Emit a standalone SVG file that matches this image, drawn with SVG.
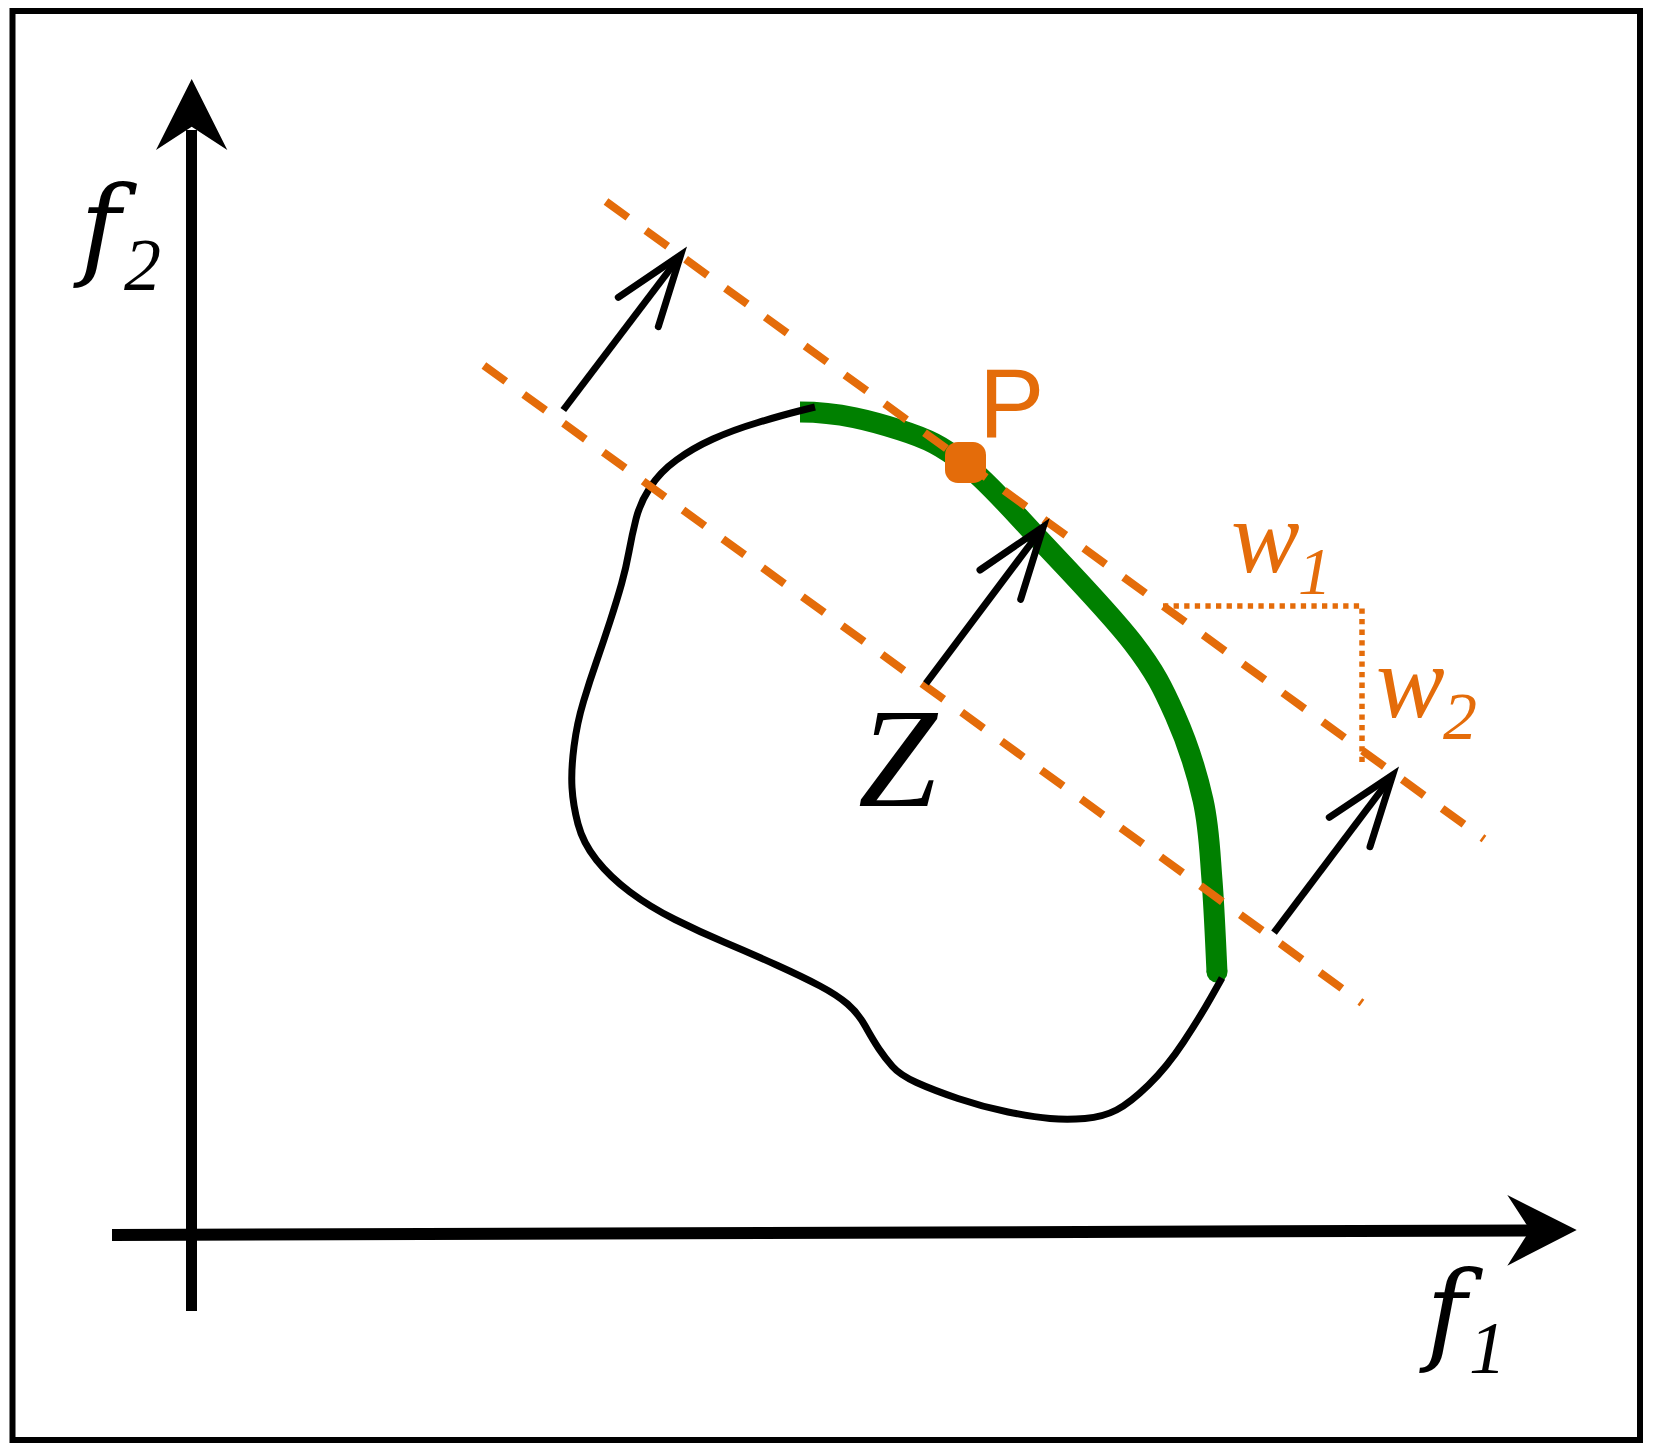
<svg xmlns="http://www.w3.org/2000/svg" width="1654" height="1449" viewBox="0 0 1654 1449">
<style>
.ax{stroke:#000;stroke-width:11;fill:none}
.head{fill:#000;stroke:none}
.dash{stroke:#E46C0A;stroke-width:8;fill:none;stroke-dasharray:27 22.2}
.dot{stroke:#E46C0A;stroke-width:5.5;fill:none;stroke-dasharray:5.3 5.3}
.arr{stroke:#000;stroke-width:7;fill:none}
.arrh{stroke:#000;stroke-width:7;fill:none;stroke-linecap:round;stroke-linejoin:miter;stroke-miterlimit:6}
.it{font-family:"Liberation Serif","Times New Roman",serif;font-style:italic}
.fi{font-family:"DejaVu Serif",serif;font-style:italic}
</style>
<rect x="12.5" y="11" width="1627.5" height="1429" fill="#fff" stroke="#000" stroke-width="6"/>
<g id="axes">
<line class="ax" x1="191.5" y1="1311" x2="191.5" y2="130"/>
<polygon class="head" points="191.7,79 227.3,150 191.7,126.7 156,150"/>
<line class="ax" x1="112" y1="1235" x2="1532" y2="1230.5" style="stroke-width:12"/>
<polygon class="head" points="1576.7,1230 1507.3,1195 1530,1230 1507.3,1265.7"/>
</g>
<g id="front">
<path d="M800,412 C840,412 872.5,421.3 900,430 C927.5,438.7 941.7,445.7 965,464 C988.3,482.3 1012,510.2 1040,540 C1068,569.8 1110.5,613.8 1133,643 C1155.5,672.2 1163.3,688.8 1175,715 C1186.7,741.2 1196.8,772.5 1203,800 C1209.2,827.5 1209.7,851.3 1212,880 C1214.3,908.7 1216.2,956.7 1217,972" stroke="#008000" stroke-width="21" fill="none" stroke-linecap="butt"/>
<circle cx="1217" cy="972" r="10.5" fill="#008000"/>
</g>
<g id="region">
<path d="M815,407 L799,411 Q783,415 758,422.5 Q733,430 713,439 Q693,448 676.5,460 Q660,472 650,487.5 Q640,503 636,519 Q632,535 629,551.5 Q626,568 621.5,584 Q617,600 610,621.5 Q603,643 596.5,661.5 Q590,680 583.5,701.5 Q577,723 574,746.5 Q571,770 572,787.5 Q573,805 578,824 Q583,843 596.5,860 Q610,877 630,892 Q650,907 675,919.5 Q700,932 725,942.5 Q750,953 776.5,965 Q803,977 820,986 Q837,995 847.5,1004 Q858,1013 865.5,1026.5 Q873,1040 879,1049 Q885,1058 892.5,1066.5 Q900,1075 916.5,1082.5 Q933,1090 958,1098.5 Q983,1107 1008,1112 Q1033,1117 1050,1118.5 Q1067,1120 1085,1118.5 Q1103,1117 1116.5,1110 Q1130,1103 1148.5,1085 Q1167,1067 1183.5,1042 Q1200,1017 1211,997.5 L1222,978" stroke="#000" stroke-width="7" fill="none"/>
</g>
<g id="connectors">
<line class="dash" x1="606" y1="201.5" x2="1484" y2="838.9"/>
<line class="dash" x1="483.9" y1="365.5" x2="1362" y2="1003"/>
<path class="dot" d="M1163,606 H1362 V762"/>
<g id="arrow1">
<line class="arr" x1="563.3" y1="410" x2="677" y2="260"/>
<path class="arrh" d="M618.3,297.3 L680.7,255 L658.3,326.7"/>
</g>
<g id="arrow2">
<line class="arr" x1="926" y1="683.3" x2="1039.5" y2="532"/>
<path class="arrh" d="M980,570 L1043.3,526.7 L1020.7,599.3"/>
</g>
<g id="arrow3">
<line class="arr" x1="1274" y1="932.7" x2="1389" y2="780"/>
<path class="arrh" d="M1329.3,817.3 L1392.7,775 L1370,846.7"/>
</g>
</g>
<g id="P">
<rect x="945" y="442" width="41" height="41" rx="13" fill="#E46C0A"/>
<text x="979" y="437" font-family="Liberation Sans, Arial, sans-serif" font-size="98" fill="#E46C0A">P</text>
</g>
<g id="labels">
<text class="fi" x="80" y="265" font-size="110">f</text>
<text class="it" x="124" y="290" font-size="74">2</text>
<text class="fi" x="1426" y="1350" font-size="110">f</text>
<text class="it" x="1469" y="1373" font-size="74">1</text>
<text class="it" x="858" y="806" font-size="142">Z</text>
<text class="it" x="1231" y="572" font-size="103" fill="#E46C0A">w</text>
<text class="it" x="1298" y="594" font-size="67" fill="#E46C0A">1</text>
<text class="it" x="1376" y="717" font-size="103" fill="#E46C0A">w</text>
<text class="it" x="1443" y="739" font-size="68" fill="#E46C0A">2</text>
</g>
</svg>
